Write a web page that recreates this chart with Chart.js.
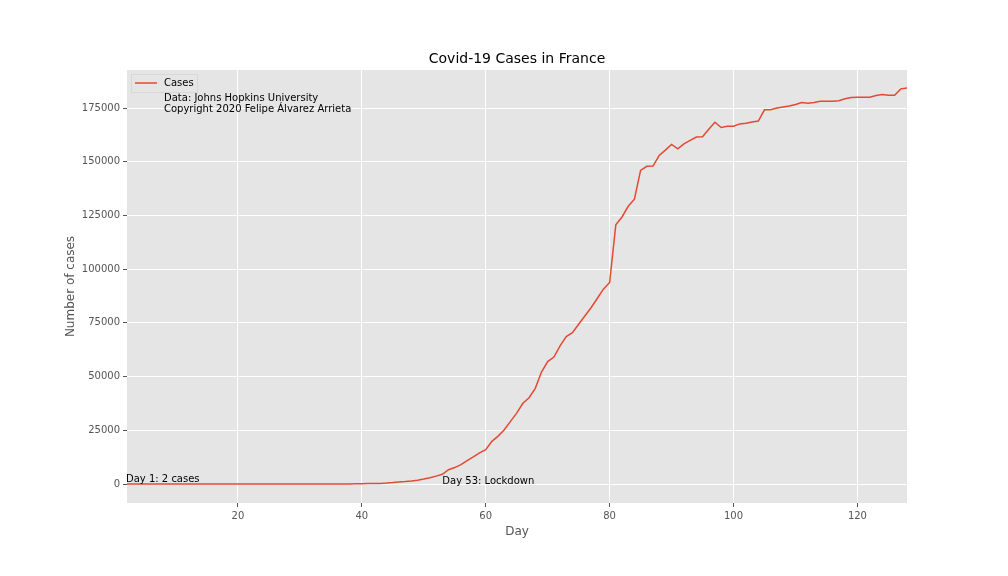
<!DOCTYPE html>
<html>
<head>
<meta charset="utf-8">
<script src="https://cdn.jsdelivr.net/npm/chart.js@4"></script>
<style>
  body { margin: 0; background: #fff; }
  #chart { display: block; }
</style>
</head>
<body>
<canvas id="chart" width="1008" height="576"></canvas>
<script>
// data
var days = [];
for (var d = 1; d <= 128; d++) days.push(d);

var cases = [
    2, 3, 3, 3, 4, 5, 5, 5, 6, 6,            // 1-10
    11, 11, 11, 11, 12, 12, 12, 12, 12, 12,  // 11-20
    12, 12, 12, 12, 12, 12, 12, 12, 12, 12,  // 21-30
    12, 12, 12, 12, 14, 18, 38, 57, 100, 130, // 31-40
    191, 212, 285, 423, 653, 949, 1126, 1412, 1784, 2281, // 41-50
    2876, 3661, 4499, 6633, 7652, 9043, 10871, 12612, 14459, 16018, // 51-60
    19856, 22304, 25233, 29155, 32964, 37575, 40174, 44550, 52128, 56989, // 61-70
    59105, 64338, 68605, 70478, 74390, 78167, 82048, 86334, 90676, 93790, // 71-80
    120633, 124298, 129257, 132591, 145960, 147863, 147969, 152894, 155383, 158050, // 81-90
    155980, 158303, 159952, 161488, 161644, 165093, 168396, 165911, 166543, 166543, // 91-100
    167605, 167961, 168518, 168925, 174191, 174224, 175027, 175479, 175981, 176658, // 101-110
    177547, 177207, 177554, 178184, 178184, 178184, 178428, 179306, 179927, 180044, // 111-120
    180044, 180044, 180809, 181251, 180933, 180933, 183918, 184323           // 121-128
];

var xTicks = [20, 40, 60, 80, 100, 120];
var yTicks = [0, 25000, 50000, 75000, 100000, 125000, 150000, 175000];

var lineColor = '#E24A33';
var textColor = '#555555';

// custom drawing: plot background, title, axis labels, legend box, notes
var decorations = {
    id: 'decorations',
    beforeDraw: function (chart) {
        var a = chart.chartArea, ctx = chart.ctx;
        ctx.save();
        ctx.fillStyle = '#E5E5E5';
        ctx.fillRect(a.left, a.top, a.right - a.left, a.bottom - a.top);
        ctx.restore();
    },
    afterDraw: function (chart) {
        var a = chart.chartArea, ctx = chart.ctx;
        var xs = chart.scales.x, ys = chart.scales.y;
        ctx.save();
        // title
        ctx.fillStyle = '#000';
        ctx.font = '14px "DejaVu Sans"';
        ctx.textAlign = 'center';
        ctx.textBaseline = 'alphabetic';
        ctx.fillText('Covid-19 Cases in France', (a.left + a.right) / 2, 63);
        // axis titles
        ctx.fillStyle = textColor;
        ctx.font = '12px "DejaVu Sans"';
        ctx.fillText('Day', (a.left + a.right) / 2, 535);
        ctx.translate(74, (a.top + a.bottom) / 2);
        ctx.rotate(-Math.PI / 2);
        ctx.fillText('Number of cases', 0, 0);
        ctx.restore();

        ctx.save();
        // legend
        ctx.strokeStyle = '#D8D8D8';
        ctx.lineWidth = 1;
        ctx.strokeRect(a.left + 4.5, a.top + 4.5, 66, 18);
        ctx.beginPath();
        ctx.strokeStyle = lineColor;
        ctx.lineWidth = 1.5;
        ctx.moveTo(a.left + 8, a.top + 13);
        ctx.lineTo(a.left + 30, a.top + 13);
        ctx.stroke();
        ctx.fillStyle = '#000';
        ctx.font = '10px "DejaVu Sans"';
        ctx.textAlign = 'left';
        ctx.textBaseline = 'middle';
        ctx.fillText('Cases', a.left + 37, a.top + 13);
        ctx.fillText('Data: Johns Hopkins University', a.left + 37, a.top + 28);
        ctx.fillText('Copyright 2020 Felipe \u00c1lvarez Arrieta', a.left + 37, a.top + 39);
        // notes
        ctx.textBaseline = 'alphabetic';
        ctx.fillText('Day 1: 2 cases', xs.getPixelForValue(2.1) - 1, ys.getPixelForValue(2) - 2);
        ctx.fillText('Day 53: Lockdown', xs.getPixelForValue(53), ys.getPixelForValue(0));
        ctx.restore();
    }
};

new Chart(document.getElementById('chart'), {
    type: 'line',
    data: {
        datasets: [{
            label: 'Cases',
            data: days.map(function (d, i) { return { x: d, y: cases[i] }; }),
            borderColor: lineColor,
            borderWidth: 1.5,
            pointRadius: 0,
            tension: 0
        }]
    },
    options: {
        responsive: false,
        animation: false,
        layout: { padding: { top: 70, right: 101, left: 0, bottom: 0 } },
        plugins: {
            legend: { display: false },
            title: { display: false },
            tooltip: { enabled: false }
        },
        scales: {
            x: {
                type: 'linear',
                min: 2.1,
                max: 128,
                afterBuildTicks: function (s) { s.ticks = xTicks.map(function (v) { return { value: v }; }); },
                afterFit: function (s) { s.height = 73; },
                border: { display: false },
                grid: { color: '#FFFFFF', lineWidth: 1, tickColor: textColor, tickLength: 4 },
                ticks: { color: textColor, font: { family: 'DejaVu Sans', size: 10 }, padding: 3, maxRotation: 0 }
            },
            y: {
                min: -8840,
                max: 192700,
                afterBuildTicks: function (s) { s.ticks = yTicks.map(function (v) { return { value: v }; }); },
                afterFit: function (s) { s.width = 127; },
                border: { display: false },
                grid: { color: '#FFFFFF', lineWidth: 1, tickColor: textColor, tickLength: 4 },
                ticks: {
                    color: textColor, font: { family: 'DejaVu Sans', size: 10 }, padding: 3,
                    callback: function (v) { return String(v); }
                }
            }
        }
    },
    plugins: [decorations]
});
</script>
</body>
</html>
